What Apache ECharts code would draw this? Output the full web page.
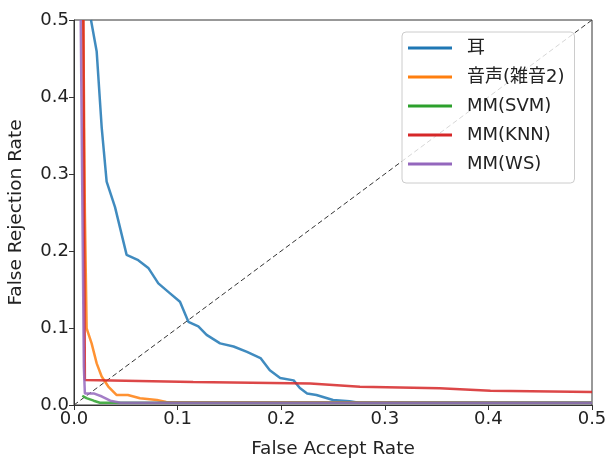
<!DOCTYPE html>
<html>
<head>
<meta charset="utf-8">
<script src="https://cdn.jsdelivr.net/npm/echarts@6/dist/echarts.min.js"></script>
<style>
  html, body { margin: 0; padding: 0; background: #fff; }
  #roc { width: 606px; height: 460px; }
</style>
</head>
<body>
<div id="roc"></div>
<script>
// [FAR, FRR] pairs
const ear = [
  [0.0164, 0.5], [0.0219, 0.459], [0.0267, 0.361], [0.0315, 0.29], [0.0396, 0.257],
  [0.0508, 0.195], [0.062, 0.188], [0.0717, 0.178], [0.0814, 0.158], [0.0927, 0.145],
  [0.1023, 0.134], [0.1104, 0.108], [0.12, 0.102], [0.128, 0.091], [0.141, 0.08],
  [0.154, 0.076], [0.167, 0.069], [0.18, 0.061], [0.189, 0.045], [0.199, 0.035],
  [0.212, 0.032], [0.218, 0.022], [0.225, 0.015], [0.234, 0.013], [0.25, 0.0065],
  [0.266, 0.0048], [0.275, 0.003], [0.5, 0.003]
];
const voiceNoise2 = [
  [0.009, 0.5], [0.0105, 0.25], [0.0122, 0.0996], [0.017, 0.08], [0.0219, 0.054],
  [0.0267, 0.037], [0.0331, 0.024], [0.041, 0.013], [0.052, 0.013], [0.0637, 0.0087],
  [0.08, 0.0065], [0.089, 0.004], [0.5, 0.003]
];
const mmSvm = [
  [0.008, 0.012], [0.012, 0.009], [0.019, 0.0056], [0.025, 0.003], [0.5, 0.003]
];
const mmKnn = [
  [0.009, 0.5], [0.0105, 0.0325], [0.115, 0.03], [0.228, 0.028], [0.276, 0.0238],
  [0.353, 0.0216], [0.402, 0.0186], [0.5, 0.0169]
];
const mmWs = [
  [0.0065, 0.5], [0.0095, 0.05], [0.0105, 0.015], [0.019, 0.015], [0.027, 0.011],
  [0.035, 0.0056], [0.045, 0.003], [0.5, 0.003]
];
const chance = [[0, 0], [0.5, 0.5]];

const names = ['耳', '音声(雑音2)', 'MM(SVM)', 'MM(KNN)', 'MM(WS)'];
const colors = ['#1f77b4', '#ff7f0e', '#2ca02c', '#d62728', '#9467bd'];
const curves = [ear, voiceNoise2, mmSvm, mmKnn, mmWs];

const font = '"DejaVu Sans", "Noto Sans CJK JP", sans-serif';
const chart = echarts.init(document.getElementById('roc'));

const axisCommon = {
  type: 'value',
  min: 0,
  max: 0.5,
  interval: 0.1,
  nameLocation: 'middle',
  nameTextStyle: { fontSize: 18.5, color: '#222', fontFamily: font },
  axisLine: { show: true, lineStyle: { color: '#333', width: 1 } },
  axisTick: { show: true, inside: false, length: 5, lineStyle: { color: '#333' } },
  axisLabel: {
    fontSize: 18, color: '#222', fontFamily: font, margin: 5,
    formatter: v => v.toFixed(1)
  },
  splitLine: { show: false }
};

const series = curves.map((d, i) => ({
  name: names[i],
  type: 'line',
  data: d,
  symbol: 'none',
  color: colors[i],
  lineStyle: { width: 2.5, color: colors[i], opacity: 0.85 },
  z: 3
}));

// chance diagonal
series.unshift({
  type: 'line',
  data: chance,
  symbol: 'none',
  silent: true,
  lineStyle: { color: '#333', width: 1, type: [5, 3] },
  z: 2
});

const option = {
  animation: false,
  backgroundColor: '#fff',
  grid: {
    left: 74, top: 20, right: 14, bottom: 55,
    containLabel: false,
    outerBoundsMode: 'none',
    show: true, borderColor: '#333', borderWidth: 1
  },
  xAxis: Object.assign({}, axisCommon, { name: 'False Accept Rate', nameGap: 35 }),
  yAxis: Object.assign({}, axisCommon, { name: 'False Rejection Rate', nameGap: 49 }),
  legend: {
    data: names,
    orient: 'vertical',
    left: 402,
    top: 32,
    padding: [7, 10, 10, 6],
    icon: 'rect',
    itemWidth: 44,
    itemHeight: 3,
    itemGap: 11,
    borderColor: '#ccc',
    borderWidth: 1,
    borderRadius: 4,
    backgroundColor: 'rgba(255,255,255,0.8)',
    textStyle: { fontSize: 18, lineHeight: 18, color: '#222', fontFamily: font, padding: [0, 0, 0, 10] }
  },
  series: series
};

chart.setOption(option);
</script>
</body>
</html>
